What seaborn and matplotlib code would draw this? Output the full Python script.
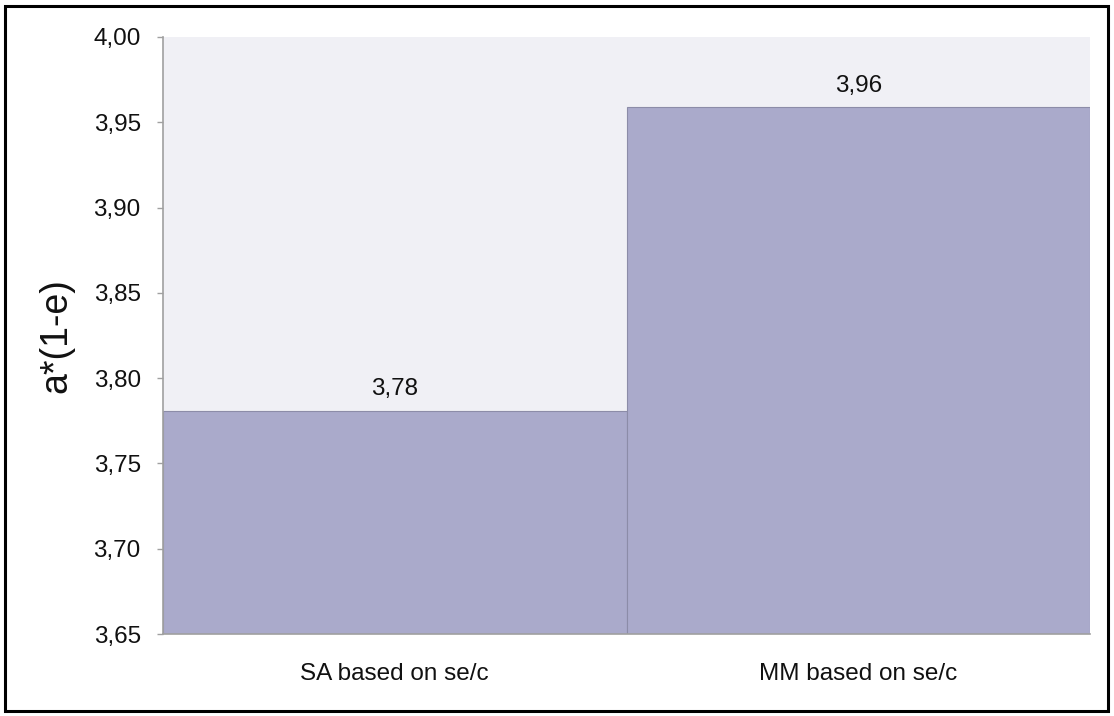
import matplotlib
matplotlib.use("Agg")
import matplotlib.pyplot as plt
import matplotlib.patches as mpatches
import seaborn as sns
import pandas as pd

categories = ["SA based on se/c", "MM based on se/c"]
values = [3.781, 3.959]
value_labels = ["3,78", "3,96"]
y_ticks = [3.65, 3.70, 3.75, 3.80, 3.85, 3.90, 3.95, 4.00]
y_tick_labels = ["3,65", "3,70", "3,75", "3,80", "3,85", "3,90", "3,95", "4,00"]

sns.set_theme(style="white")
plt.rcParams["font.family"] = ["Liberation Sans", "DejaVu Sans"]

df = pd.DataFrame({"method": categories, "value": values})

fig = plt.figure(figsize=(11.14, 7.16), dpi=100)
ax = fig.add_axes([163 / 1114, 1 - 634 / 716, (1090 - 163) / 1114, (634 - 37) / 716])

sns.barplot(data=df, x="method", y="value", color="#aaaacb", saturation=1,
            width=1.0, edgecolor="#8c8ca8", linewidth=0.8, ax=ax)

ax.set_facecolor("#f0f0f5")
ax.set_ylim(3.65, 4.00)
ax.set_xlim(-0.5, 1.5)
ax.set_yticks(y_ticks)
ax.set_yticklabels(y_tick_labels, fontsize=17.5, color="#111111")
ax.tick_params(axis="x", labelsize=17.5, length=0, pad=21, colors="#111111")
ax.tick_params(axis="y", length=4.5, width=1, color="#a0a0a0", pad=11.5, left=True)
ax.set_xlabel("")
ax.set_ylabel("a*(1-e)", fontsize=27, labelpad=14, color="#111111")

for side in ["top", "right"]:
    ax.spines[side].set_visible(False)
for side in ["left", "bottom"]:
    ax.spines[side].set_color("#a0a0a0")
    ax.spines[side].set_linewidth(1.2)

for i, (v, lab) in enumerate(zip(values, value_labels)):
    ax.annotate(lab, xy=(i, v), xytext=(0, 11), textcoords="offset points",
                ha="center", va="baseline", fontsize=17.5, color="#111111")

border = mpatches.Rectangle((5 / 1114, 1 - 711 / 716), (1108 - 5) / 1114, (711 - 6) / 716,
                            transform=fig.transFigure, fill=False,
                            edgecolor="black", linewidth=2.2)
fig.patches.append(border)

fig.savefig("out.png", dpi=100, facecolor="white")
